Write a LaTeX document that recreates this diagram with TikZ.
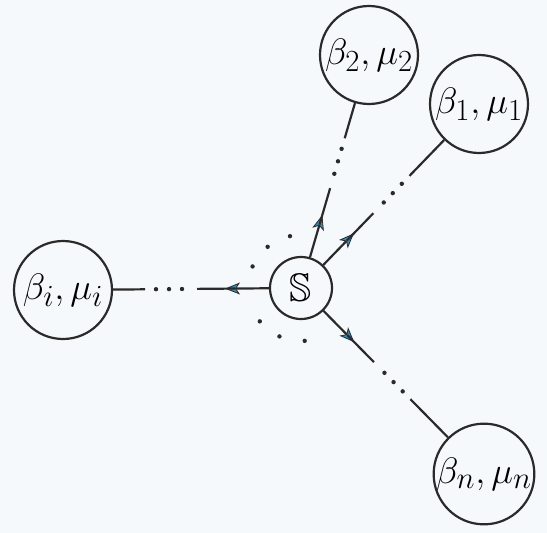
\documentclass[tikz,border=0pt]{standalone}
\usepackage{amssymb}
\usetikzlibrary{calc,arrows.meta}
\definecolor{ink}{HTML}{2A2A2A}
\definecolor{arrowblue}{HTML}{3A8DB5}
\definecolor{paper}{HTML}{F6F9FB}
\newcommand{\bigtxt}[1]{\scalebox{1.48}{\Huge #1}}
\newcommand{\stxt}[1]{\scalebox{1.6}{\Huge #1}}
\tikzset{
  bignode/.style={circle,draw=ink,line width=2.2pt,minimum size=98pt,inner sep=0pt},
  snode/.style={circle,draw=ink,line width=2.2pt,minimum size=62pt,inner sep=0pt},
  link/.style={draw=ink,line width=2.2pt},
  arrowlink/.style={link,-{Stealth[length=15pt,width=12pt,inset=4pt,fill=arrowblue,line width=0.8pt]}},
  dot/.style={fill=ink}
}
\begin{document}
\begin{tikzpicture}[x=1pt,y=-1pt]
\fill[paper] (0,0) rectangle (547,533);
\useasboundingbox (0,0) rectangle (547,533);
\node[snode] (S) at (301,288) {\stxt{$\mathbb{S}$}};
\node[bignode] (b2) at (369,55) {\bigtxt{$\beta_2,\mu_2$}};
\node[bignode] (b1) at (479,104) {\bigtxt{$\beta_1,\mu_1$}};
\node[bignode] (bi) at (63,290) {\bigtxt{$\beta_i,\mu_i$}};
\node[bignode] (bn) at (484,474) {\bigtxt{$\beta_n,\mu_n$}};
\foreach \T in {b1,b2,bi,bn}{
  \draw[arrowlink] (S) -- ($(S.center)!76pt!(\T.center)$);
  \draw[link] ($(S.center)!66pt!(\T.center)$) -- ($(S.center)!104pt!(\T.center)$);
  \foreach \d in {119,132,145}{
    \fill[dot] ($(S.center)!\d pt!(\T.center)$) circle (2.2pt);
  }
  \draw[link] ($(S.center)!156pt!(\T.center)$) -- (\T);
}
\foreach \a in {102,129,156,219,246,274}{
  \fill[dot] ($(S.center)+(-\a:53)$) circle (2.2pt);
}
\end{tikzpicture}
\end{document}
